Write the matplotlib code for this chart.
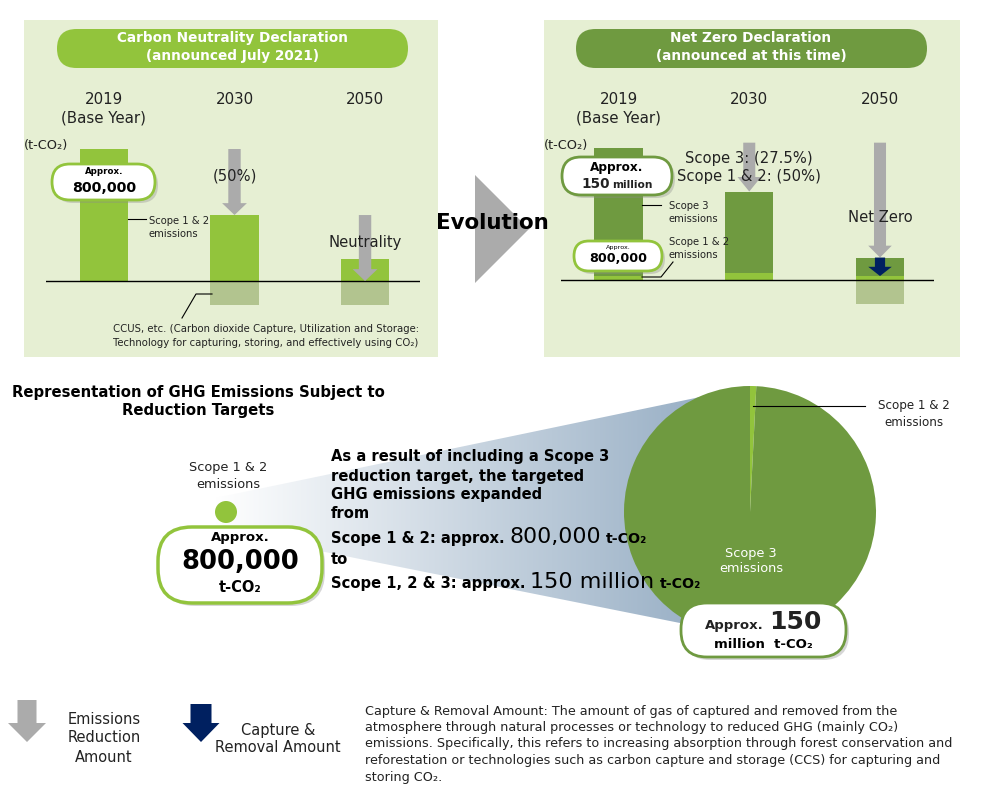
import matplotlib
matplotlib.use("Agg")
import matplotlib.pyplot as plt
import matplotlib.transforms as mtransforms
from matplotlib.patches import FancyBboxPatch, Rectangle, Polygon, Circle
from matplotlib.colors import LinearSegmentedColormap
import numpy as np

W, H = 982, 791

# Chart data
years = ["2019\n(Base Year)", "2030", "2050"]
# Carbon Neutrality Declaration (2019 scope 1&2 = 100)
cn_emissions = [100, 50, 17]
cn_ccus = [0, -18, -18]
cn_notes = ["", "(50%)", "Neutrality"]
# Net Zero Declaration (2019 scope 1, 2 & 3 = 100)
nz_scope12 = [3, 5, 3]
nz_scope3 = [97, 62, 14]
nz_removal = [0, 0, -18]
nz_notes = ["", "Scope 3: (27.5%)\nScope 1 & 2: (50%)", "Net Zero"]
# pie: share of targeted GHG emissions (%)
pie_labels = ["Scope 1 & 2\nemissions", "Scope 3\nemissions"]
pie_shares = [0.8, 99.2]

BRIGHT = "#92C43C"
DARK = "#6F9A40"
CCUS = "#B2C48F"
PANEL = "#E6EFD3"
ARROW = "#ABABAB"
NAVY = "#002060"
TXT = "#222222"

fig = plt.figure(figsize=(W / 100, H / 100), dpi=100)
renderer = fig.canvas.get_renderer()


def px_axes(x0, y0, x1, y1, z):
    ax = fig.add_axes([x0 / W, 1 - y1 / H, (x1 - x0) / W, (y1 - y0) / H], zorder=z)
    ax.axis("off")
    return ax


def pixel_space(ax):
    ax.set_xlim(0, W)
    ax.set_ylim(H, 0)


def down_arrow(ax, x, y_top, y_tip, shaft_w, head_w, head_len, color):
    sign = np.sign(y_top - y_tip)
    y_neck = y_tip + sign * head_len
    pts = [(x - shaft_w / 2, y_top), (x + shaft_w / 2, y_top), (x + shaft_w / 2, y_neck),
           (x + head_w / 2, y_neck), (x, y_tip), (x - head_w / 2, y_neck), (x - shaft_w / 2, y_neck)]
    ax.add_patch(Polygon(pts, closed=True, facecolor=color, edgecolor="none", zorder=4))


def pill(ax, x0, y0, x1, y1, edge, lw=2.0, fc="white", shadow=True, r=None):
    h = y1 - y0
    r = h / 2 if r is None else r
    style = f"round,pad=0,rounding_size={r}"
    if shadow:
        ax.add_patch(FancyBboxPatch((x0 + 3, y0 + 3), x1 - x0, h, boxstyle=style,
                                    fc="#8c8c8c", ec="none", alpha=0.35, zorder=5))
    ax.add_patch(FancyBboxPatch((x0, y0), x1 - x0, h, boxstyle=style,
                                fc=fc, ec=edge, lw=lw, zorder=5))


def lines(ax, x, y, s, step, transform=None, **kw):
    kw.setdefault("color", TXT)
    kw.setdefault("ha", "center")
    kw.setdefault("va", "center")
    kw.setdefault("zorder", 6)
    if transform is not None:
        kw["transform"] = transform
    for i, line in enumerate(s.split("\n")):
        ax.text(x, y + i * step, line, **kw)


def run(ax, x, y, parts, ha="left", gap=5, color=TXT):
    arts = []
    cur = x
    for s, size, weight in parts:
        t = ax.text(cur, y, s, fontsize=size, fontweight=weight, va="baseline",
                    ha="left", color=color, zorder=6)
        cur += t.get_window_extent(renderer).width + gap
        arts.append(t)
    total = cur - gap - x
    if ha == "center":
        for t in arts:
            t.set_x(t.get_position()[0] - total / 2)


# background layer: panels, titles, gradient
bg = fig.add_axes([0, 0, 1, 1], zorder=0)
bg.axis("off")
bg.add_patch(Rectangle((24, 20), 414, 337, fc=PANEL, ec="none"))
bg.add_patch(Rectangle((544, 20), 416, 337, fc=PANEL, ec="none"))
pill(bg, 57, 29, 408, 68, BRIGHT, lw=0, fc=BRIGHT, shadow=False)
pill(bg, 576, 29, 927, 68, DARK, lw=0, fc=DARK, shadow=False)
lines(bg, 233, 38, "Carbon Neutrality Declaration\n(announced July 2021)", 18,
      color="white", fontsize=9.8, fontweight="bold")
lines(bg, 751, 38, "Net Zero Declaration\n(announced at this time)", 18,
      color="white", fontsize=9.8, fontweight="bold")

fade = LinearSegmentedColormap.from_list("fade", ["#FFFFFF", "#98AFC5"])
im = bg.imshow(np.linspace(0, 1, 256)[None, :], cmap=fade, extent=(215, 705, 630, 390),
               aspect="auto", zorder=1)
wedge = Polygon([(215, 498), (705, 396), (695, 626), (215, 530)], closed=True,
                fc="none", ec="none")
bg.add_patch(wedge)
im.set_clip_path(wedge)
bg.add_patch(Polygon([(475, 175), (475, 283), (529, 229)], closed=True, fc=ARROW, ec="none"))
pixel_space(bg)

idx = np.arange(len(years))

# left bar panel
lax = px_axes(46, 130, 420, 320, 2)
lax.bar(idx, cn_emissions, width=0.368, color=BRIGHT)
lax.bar(idx, cn_ccus, width=0.368, color=CCUS)
lax.axhline(0, color="black", lw=1)
down_arrow(lax, 1, cn_emissions[0], cn_emissions[1], 0.095, 0.19, 9, ARROW)
down_arrow(lax, 2, cn_emissions[1], 0, 0.095, 0.19, 9, ARROW)
lax.set_xlim(-0.444, 2.421)
lax.set_ylim(-29.5, 114.4)

# right bar panel
rax = px_axes(561, 130, 934, 320, 2)
nz_total = [a + b for a, b in zip(nz_scope12, nz_scope3)]
rax.bar(idx, nz_scope12, width=0.368, color=BRIGHT)
rax.bar(idx, nz_scope3, bottom=nz_scope12, width=0.368, color=DARK)
rax.bar(idx, nz_removal, width=0.368, color=CCUS)
rax.axhline(0, color="black", lw=1)
down_arrow(rax, 1, 104, nz_total[1], 0.092, 0.18, 11, ARROW)
down_arrow(rax, 2, 104, nz_total[2], 0.092, 0.18, 9, ARROW)
down_arrow(rax, 2, nz_total[2], nz_scope12[2], 0.078, 0.18, 7, NAVY)
rax.set_xlim(-0.44, 2.413)
rax.set_ylim(-30.3, 113.6)

# pie
pax = px_axes(624, 386, 876, 638, 2)
pax.pie(pie_shares, colors=[BRIGHT, DARK], startangle=90, counterclock=False,
        wedgeprops=dict(linewidth=0))
pax.set_xlim(-1, 1)
pax.set_ylim(-1, 1)

# overlay: labels, pills, legend
top = fig.add_axes([0, 0, 1, 1], zorder=5)
top.axis("off")
pixel_space(top)

for ax, note_y in ((lax, [0, 176, 243]), (rax, [0, 159, 217])):
    tr = mtransforms.blended_transform_factory(ax.transData, top.transData)
    for i, yr in enumerate(years):
        lines(top, i, 99, yr, 19, transform=tr, fontsize=10.8)
    notes = cn_notes if ax is lax else nz_notes
    for i, note in enumerate(notes):
        if note:
            lines(top, i, note_y[i], note, 18, transform=tr, fontsize=10.6)

top.text(24, 146, "(t-CO₂)", fontsize=9.3, color=TXT, va="center", ha="left")
top.text(544, 146, "(t-CO₂)", fontsize=9.3, color=TXT, va="center", ha="left")

# left panel annotations
pill(top, 52, 164, 155, 200, BRIGHT, lw=2)
top.text(104, 172, "Approx.", fontsize=6.2, fontweight="bold", ha="center", va="center", zorder=6)
top.text(104, 188, "800,000", fontsize=10.2, fontweight="bold", ha="center", va="center", zorder=6)
top.plot([128, 146], [219, 219], color="black", lw=0.8)
lines(top, 149, 221, "Scope 1 & 2\nemissions", 13, ha="left", fontsize=7.2)
top.plot([182, 196, 212], [318, 294, 294], color="black", lw=0.8)
lines(top, 113, 329, "CCUS, etc. (Carbon dioxide Capture, Utilization and Storage:\n"
      "Technology for capturing, storing, and effectively using CO₂)", 13.5,
      ha="left", fontsize=7.25)

top.text(492, 223, "Evolution", fontsize=15.4, fontweight="bold", ha="center", va="center",
         color="black", zorder=6)

# right panel annotations
pill(top, 562, 157, 672, 195, DARK, lw=2)
top.text(617, 167, "Approx.", fontsize=8.7, fontweight="bold", ha="center", va="center", zorder=6)
run(top, 617, 188, [("150", 9.8, "bold"), ("million", 7.7, "bold")], ha="center", gap=3)
pill(top, 574, 241, 662, 271, BRIGHT, lw=2)
top.text(618, 248, "Approx.", fontsize=4.6, ha="center", va="center", zorder=6)
top.text(618, 259, "800,000", fontsize=9.2, fontweight="bold", ha="center", va="center", zorder=6)
top.plot([642, 661], [205, 205], color="black", lw=0.8)
lines(top, 669, 206, "Scope 3\nemissions", 13, ha="left", fontsize=7.2)
top.plot([642, 661, 673], [277, 277, 262], color="black", lw=0.8)
lines(top, 669, 242, "Scope 1 & 2\nemissions", 13, ha="left", fontsize=7.2)

# lower section
lines(top, 198, 392, "Representation of GHG Emissions Subject to\nReduction Targets", 19,
      fontsize=10.7, fontweight="bold", color="black")
lines(top, 228, 467, "Scope 1 & 2\nemissions", 17, fontsize=9.3)
top.add_patch(Circle((226, 512), 11, fc=BRIGHT, ec="none", zorder=5))
pill(top, 158, 527, 322, 603, BRIGHT, lw=2.5, r=34)
top.text(240, 538, "Approx.", fontsize=9.5, fontweight="bold", ha="center", va="center", zorder=6)
top.text(240, 562, "800,000", fontsize=18.5, fontweight="bold", ha="center", va="center", zorder=6)
top.text(240, 588, "t-CO₂", fontsize=10.5, fontweight="bold", ha="center", va="center", zorder=6)

lines(top, 331, 457, "As a result of including a Scope 3\nreduction target, the targeted\n"
      "GHG emissions expanded\nfrom", 19, ha="left", fontsize=10.6, fontweight="bold",
      color="black")
run(top, 331, 543, [("Scope 1 & 2: approx.", 10.6, "bold"), ("800,000", 15.9, "normal"),
                    ("t-CO₂", 10.2, "bold")], color="black")
top.text(331, 559, "to", fontsize=10.6, fontweight="bold", va="center", color="black")
run(top, 331, 588, [("Scope 1, 2 & 3: approx.", 10.6, "bold"), ("150 million", 16, "normal"),
                    ("t-CO₂", 10.2, "bold")], color="black")

top.plot([753, 865], [406, 406], color="black", lw=0.8)
lines(top, 914, 405, pie_labels[0], 17, fontsize=8.6)
lines(top, 751, 553, pie_labels[1], 16, fontsize=9.3, color="white")
pill(top, 681, 603, 846, 657, DARK, lw=2, r=26)
run(top, 763, 629, [("Approx.", 9.5, "bold"), ("150", 18, "bold")], ha="center", gap=5)
top.text(763, 645, "million  t-CO₂", fontsize=9.5, fontweight="bold", ha="center",
         va="center", zorder=6)

# legend
down_arrow(top, 27, 700, 742, 19, 38, 19, ARROW)
lines(top, 104, 719, "Emissions\nReduction\nAmount", 19, fontsize=10.5)
down_arrow(top, 201, 704, 742, 21, 37, 19, NAVY)
lines(top, 278, 730, "Capture &\nRemoval Amount", 18, fontsize=10.5)

footnote = ("Capture & Removal Amount: The amount of gas of captured and removed from the\n"
            "atmosphere through natural processes or technology to reduced GHG (mainly CO₂)\n"
            "emissions. Specifically, this refers to increasing absorption through forest conservation and\n"
            "reforestation or technologies such as carbon capture and storage (CCS) for capturing and\n"
            "storing CO₂.")
lines(top, 365, 711, footnote, 16.5, ha="left", fontsize=9.2)

fig.savefig("out.png", dpi=100)
